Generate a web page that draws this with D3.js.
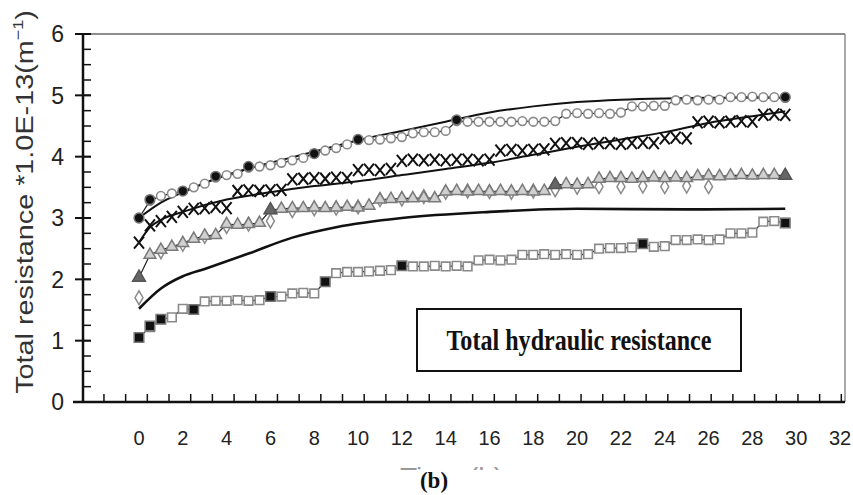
<!DOCTYPE html>
<html>
<head>
<meta charset="utf-8">
<script src="https://cdnjs.cloudflare.com/ajax/libs/d3/7.8.5/d3.min.js"></script>
<style>
body { margin: 0; background: #fff; }
svg { display: block; }
</style>
</head>
<body>
<svg></svg>
<script>
// sampling times (h)
var time = [0,0.5,1,1.5,2,2.5,3,3.5,4,4.5,5,5.5,6,6.5,7,7.5,8,8.5,9,9.5,
  10,10.5,11,11.5,12,12.5,13,13.5,14,14.5,15,15.5,16,16.5,17,17.5,18,18.5,19,19.5,
  20,20.5,21,21.5,22,22.5,23,23.5,24,24.5,25,25.5,26,26.5,27,27.5,28,28.5,29,29.5];

var circles = [3.00,3.28,3.36,3.40,3.44,3.50,3.56,3.66,3.70,3.72,
  3.82,3.84,3.86,3.90,3.94,3.98,4.05,4.10,4.14,4.20,
  4.28,4.27,4.28,4.30,4.32,4.38,4.40,4.40,4.42,4.58,
  4.57,4.57,4.57,4.57,4.57,4.58,4.57,4.57,4.58,4.70,
  4.71,4.70,4.71,4.70,4.72,4.82,4.82,4.83,4.83,4.92,
  4.93,4.92,4.93,4.93,4.97,4.97,4.98,4.97,4.97,4.96];

var crosses = [2.60,2.88,2.95,3.02,3.10,3.15,3.16,3.18,3.16,3.44,
  3.45,3.44,3.45,3.46,3.63,3.64,3.65,3.64,3.66,3.65,
  3.78,3.79,3.78,3.80,3.93,3.95,3.94,3.95,3.94,3.95,
  3.95,3.94,3.95,4.10,4.11,4.10,4.11,4.12,4.21,4.22,
  4.22,4.21,4.22,4.22,4.21,4.22,4.23,4.22,4.30,4.31,
  4.30,4.56,4.57,4.56,4.57,4.58,4.57,4.68,4.69,4.68];

var triangles = [2.03,2.40,2.48,2.53,2.59,2.66,2.71,2.72,2.90,2.89,
  2.90,2.92,3.13,3.15,3.16,3.16,3.17,3.16,3.17,3.18,
  3.17,3.20,3.30,3.31,3.32,3.32,3.33,3.32,3.43,3.44,
  3.43,3.44,3.43,3.44,3.43,3.44,3.43,3.44,3.54,3.55,
  3.54,3.55,3.64,3.65,3.65,3.64,3.65,3.66,3.65,3.66,
  3.65,3.68,3.69,3.68,3.69,3.70,3.69,3.70,3.70,3.69];

var squares = [1.05,1.22,1.35,1.38,1.52,1.51,1.64,1.65,1.65,1.66,
  1.65,1.66,1.72,1.72,1.77,1.78,1.77,1.96,2.10,2.12,
  2.12,2.13,2.14,2.15,2.22,2.21,2.21,2.22,2.21,2.22,
  2.21,2.31,2.32,2.31,2.32,2.40,2.40,2.41,2.40,2.41,
  2.40,2.41,2.50,2.51,2.51,2.52,2.58,2.53,2.54,2.64,
  2.64,2.65,2.64,2.65,2.75,2.75,2.76,2.94,2.95,2.92];

// second run in the middle band (diamonds)
var diaTime = [0,1,2,3,4,5,6,7,8,9,10,11,12,13,14,15,16,17,18,19,20,21,22,23,24,25,26];
var diamonds = [1.70,2.45,2.57,2.70,2.86,2.90,2.95,3.12,3.15,3.16,3.18,3.30,3.31,3.35,
  3.42,3.44,3.43,3.42,3.44,3.46,3.50,3.51,3.51,3.52,3.51,3.52,3.51];

// filled markers
var fCircTime = [0,0.5,2,3.5,5,8,10,14.5,29.5];
var fCirc = [3.00,3.30,3.44,3.68,3.84,4.05,4.28,4.60,4.97];
var fSqTime = [0,0.5,1,2.5,6,8.5,12,23,29.5];
var fSq = [1.05,1.24,1.35,1.51,1.72,1.96,2.22,2.58,2.92];
var fTriTime = [0,6,19,29.5];
var fTri = [2.03,3.13,3.54,3.69];

// model curves
var fitTopTime = [0,1,2,4,6,8,10,12,14,16,18,20,22,24,26,28,29.5];
var fitTop = [3.00,3.25,3.42,3.70,3.90,4.08,4.27,4.42,4.57,4.72,4.82,4.89,4.93,4.95,4.96,4.96,4.96];
var fitMidTime = [0,0.5,1,2,4,6,8,10,12,14,16,18,20,22,24,26,28,29.5];
var fitMid = [2.60,2.85,2.97,3.10,3.30,3.42,3.52,3.60,3.70,3.80,3.90,4.03,4.16,4.28,4.40,4.55,4.66,4.74];
var fitLowTime = [0,1,2,3,5,7,9,12,16,20,25,29.5];
var fitLow = [1.52,1.85,2.05,2.17,2.42,2.68,2.85,3.00,3.10,3.15,3.14,3.15];

var xLabels = [0,2,4,6,8,10,12,14,16,18,20,22,24,26,28,30,32];
var yLabels = [0,1,2,3,4,5,6];

var W = 853, H = 495;
var pL = 83, pR = 845, pT = 34, pB = 402;

var x = d3.scaleLinear().domain([0, 32]).range([139, 840]);
var y = d3.scaleLinear().domain([0, 6]).range([pB, pT]);

var svg = d3.select('svg').attr('width', W).attr('height', H)
  .style('font-family', '"Liberation Sans", Arial, sans-serif');

function pts(t, v) { return t.map(function (d, i) { return [d, v[i]]; }); }

// frame
svg.append('line').attr('x1', 75).attr('x2', pR).attr('y1', pT).attr('y2', pT)
  .attr('stroke', '#8c8c8c').attr('stroke-width', 2);
svg.append('line').attr('x1', pR).attr('x2', pR).attr('y1', pT).attr('y2', pB)
  .attr('stroke', '#8c8c8c').attr('stroke-width', 1.5);

// y ticks
var yMinor = d3.range(0, 6.01, 0.25);
svg.selectAll('.ymin').data(yMinor).enter().append('line')
  .attr('x1', pL).attr('x2', pL + 8)
  .attr('y1', function (d) { return y(d); }).attr('y2', function (d) { return y(d); })
  .attr('stroke', '#111').attr('stroke-width', 1.5);
svg.selectAll('.ymaj').data(yLabels).enter().append('line')
  .attr('x1', pL - 8).attr('x2', pL + 8)
  .attr('y1', function (d) { return y(d); }).attr('y2', function (d) { return y(d); })
  .attr('stroke', '#111').attr('stroke-width', 2);
svg.selectAll('.ylab').data(yLabels).enter().append('text')
  .attr('x', 64).attr('y', function (d) { return y(d); })
  .attr('dy', '0.36em').attr('text-anchor', 'end')
  .attr('font-size', 23).attr('fill', '#222')
  .text(function (d) { return d; });

// x ticks (offset from the labels, as in the original)
var xTicks = d3.range(-1.6, 32.3, 0.99);
svg.selectAll('.xt').data(xTicks).enter().append('line')
  .attr('x1', function (d) { return x(d); }).attr('x2', function (d) { return x(d); })
  .attr('y1', pB).attr('y2', pB - 8)
  .attr('stroke', '#111').attr('stroke-width', 1.5);
svg.selectAll('.xlab').data(xLabels).enter().append('text')
  .attr('x', function (d) { return x(d); }).attr('y', 445)
  .attr('text-anchor', 'middle').attr('font-size', 20).attr('fill', '#222')
  .text(function (d) { return d; });

// axes
svg.append('line').attr('x1', pL).attr('x2', pL).attr('y1', pT).attr('y2', pB)
  .attr('stroke', '#111').attr('stroke-width', 2.5);
svg.append('line').attr('x1', 73).attr('x2', pR).attr('y1', pB).attr('y2', pB)
  .attr('stroke', '#111').attr('stroke-width', 2.5);

// y title
var yt = svg.append('text')
  .attr('transform', 'translate(33,202) rotate(-90) scale(1.2,1)')
  .attr('text-anchor', 'middle').attr('font-size', 24).attr('fill', '#333');
yt.append('tspan').text('Total resistance *1.0E-13(m');
yt.append('tspan').attr('font-size', 15).attr('dy', -10).text('\u22121');
yt.append('tspan').attr('dy', 10).text(')');

// x title, cut off by the caption
svg.append('clipPath').attr('id', 'cut').append('rect')
  .attr('x', 0).attr('y', 0).attr('width', W).attr('height', 470);
svg.append('text').attr('clip-path', 'url(#cut)')
  .attr('x', 400).attr('y', 487).attr('font-size', 28).attr('fill', '#999')
  .text('Time (h)');

svg.append('text').attr('x', 434).attr('y', 488).attr('text-anchor', 'middle')
  .attr('font-family', '"Liberation Serif", "Times New Roman", serif')
  .attr('font-weight', 'bold').attr('font-size', 23).attr('fill', '#111')
  .text('(b)');

// lines
var line = d3.line().x(function (d) { return x(d[0]); }).y(function (d) { return y(d[1]); });
var smooth = d3.line().x(function (d) { return x(d[0]); }).y(function (d) { return y(d[1]); })
  .curve(d3.curveMonotoneX);

var g = svg.append('g');
[pts(time, circles), pts(time, triangles), pts(time, squares)].forEach(function (p) {
  g.append('path').attr('d', line(p)).attr('fill', 'none')
    .attr('stroke', '#222').attr('stroke-width', 1.2);
});
[[fitTopTime, fitTop, 2], [fitMidTime, fitMid, 2], [fitLowTime, fitLow, 2.6]].forEach(function (c) {
  g.append('path').attr('d', smooth(pts(c[0], c[1]))).attr('fill', 'none')
    .attr('stroke', '#111').attr('stroke-width', c[2]);
});

// markers
var gray = '#8a8a8a';
function marks(data, type, size, fill, stroke, sw) {
  g.append('g').selectAll('path').data(data).enter().append('path')
    .attr('transform', function (d) { return 'translate(' + x(d[0]) + ',' + y(d[1]) + ')'; })
    .attr('d', d3.symbol().type(type).size(size))
    .attr('fill', fill).attr('stroke', stroke).attr('stroke-width', sw);
}
marks(pts(diaTime, diamonds), d3.symbolDiamond, 55, '#fff', gray, 1.5);
marks(pts(time, triangles), d3.symbolTriangle, 60, '#d0d0d0', '#7a7a7a', 1.5);
marks(pts(time, squares), d3.symbolSquare, 75, '#fff', gray, 1.6);
marks(pts(time, circles), d3.symbolCircle, 60, '#fff', gray, 1.6);

g.append('g').selectAll('path').data(pts(time, crosses)).enter().append('path')
  .attr('transform', function (d) { return 'translate(' + x(d[0]) + ',' + y(d[1]) + ')'; })
  .attr('d', 'M-5,-6L5,6M-5,6L5,-6')
  .attr('stroke', '#111').attr('stroke-width', 2).attr('fill', 'none');

marks(pts(fTriTime, fTri), d3.symbolTriangle, 70, '#666', '#555', 1.5);
marks(pts(fSqTime, fSq), d3.symbolSquare, 90, '#111', '#777', 1.5);
marks(pts(fCircTime, fCirc), d3.symbolCircle, 75, '#111', '#777', 1.5);

// label box
svg.append('rect').attr('x', 417).attr('y', 309).attr('width', 324).attr('height', 62)
  .attr('fill', '#fff').attr('stroke', '#111').attr('stroke-width', 2);
svg.append('text').attr('x', 579).attr('y', 350).attr('text-anchor', 'middle')
  .attr('font-family', '"Liberation Serif", "Times New Roman", serif')
  .attr('font-weight', 'bold').attr('font-size', 30).attr('fill', '#111')
  .attr('textLength', 265).attr('lengthAdjust', 'spacingAndGlyphs')
  .text('Total hydraulic resistance');
</script>
</body>
</html>
